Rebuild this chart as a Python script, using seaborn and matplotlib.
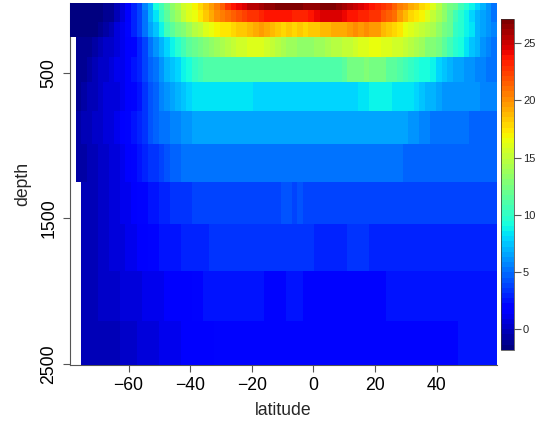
import numpy as np
import pandas as pd
import matplotlib
matplotlib.use("Agg")
import matplotlib.pyplot as plt
import seaborn as sns

nan = np.nan

# Zonal-mean section: latitude cell centres (degrees) and depth levels (m)
latitude = [
    -78.1, -76.3, -74.5, -72.7, -70.9, -69.1, -67.3, -65.5, -63.7, -61.9,
    -60.1, -58.3, -56.5, -54.7, -52.9, -51.1, -49.3, -47.5, -45.7, -43.9,
    -42.1, -40.3, -38.5, -36.7, -34.9, -33.1, -31.3, -29.5, -27.7, -25.9,
    -24.1, -22.3, -20.5, -18.7, -16.9, -15.1, -13.3, -11.5, -9.7, -7.9,
    -6.1, -4.3, -2.5, -0.7, 1.1, 2.9, 4.7, 6.5, 8.3, 10.1,
    11.9, 13.7, 15.5, 17.3, 19.1, 20.9, 22.7, 24.5, 26.3, 28.1,
    29.9, 31.7, 33.5, 35.3, 37.1, 38.9, 40.7, 42.5, 44.3, 46.1,
    47.9, 49.7, 51.5, 53.3, 55.1, 56.9, 58.7,
]
depth = [45, 90, 210, 300, 480, 645, 885, 1090, 1410, 1665, 2055, 2355]

# Temperature (deg C) along each depth level, south to north
temp_45 = [
    -1.8, -1.7, -1.6, -1.6, -1.5, -1.4, -1.2, -1.0, -0.3, 0.5,
    1.5, 2.8, 4.0, 5.5, 7.0, 9.2, 10.8, 12.0, 13.2, 14.3,
    15.5, 16.2, 17.0, 17.8, 18.8, 19.8, 20.6, 21.5, 22.7, 23.5,
    24.2, 24.8, 25.3, 25.7, 26.1, 26.4, 26.6, 26.8, 26.9, 27.0,
    27.1, 26.9, 26.6, 26.4, 26.5, 26.8, 27.0, 27.0, 26.5, 26.0,
    25.5, 25.0, 24.6, 24.2, 23.8, 23.4, 22.9, 22.2, 21.4, 20.6,
    20.0, 19.3, 18.8, 18.0, 17.2, 16.0, 14.5, 13.3, 12.5, 11.8,
    10.8, 9.6, 8.8, 8.0, 6.8, 6.0, 5.0,
]
temp_90 = [
    -1.7, -1.7, -1.6, -1.6, -1.5, -1.4, -1.2, -0.9, -0.2, 0.6,
    1.6, 2.8, 4.0, 5.4, 6.9, 8.4, 10.0, 11.5, 12.8, 14.0,
    15.0, 15.9, 16.6, 17.5, 18.3, 19.2, 20.0, 20.6, 21.2, 21.6,
    22.0, 22.3, 22.7, 23.0, 23.3, 23.5, 23.6, 23.8, 23.7, 23.6,
    23.4, 23.2, 23.3, 23.6, 24.0, 24.4, 24.6, 24.7, 24.5, 24.0,
    23.6, 23.5, 23.3, 23.2, 23.0, 22.6, 22.0, 21.5, 20.8, 19.8,
    18.8, 18.0, 17.4, 16.8, 16.0, 15.2, 14.3, 13.2, 12.0, 10.8,
    9.6, 9.0, 8.0, 7.2, 6.5, 6.0, 5.4,
]
temp_210 = [
    -1.6, -1.6, -1.5, -1.5, -1.4, -1.2, -0.6, -0.2, 0.6, 1.3,
    2.0, 3.0, 4.0, 5.2, 6.4, 7.6, 9.0, 10.4, 11.3, 12.3,
    13.0, 13.9, 14.6, 15.3, 16.0, 16.4, 16.8, 17.2, 17.6, 17.9,
    18.2, 18.5, 18.8, 19.2, 19.6, 19.4, 18.6, 18.2, 18.0, 18.1,
    17.9, 18.2, 18.0, 18.3, 18.5, 18.8, 18.9, 19.3, 19.0, 19.4,
    19.8, 20.0, 19.7, 20.1, 19.8, 19.5, 18.9, 18.3, 17.8, 17.3,
    16.6, 16.1, 15.5, 15.0, 14.8, 14.3, 13.3, 12.6, 11.8, 10.3,
    9.5, 9.0, 8.2, 7.0, 6.5, 6.0, 5.6,
]
temp_300 = [
    nan, -1.3, -1.2, -1.0, -0.6, -0.2, 0.1, 0.4, 0.7, 1.1,
    1.6, 2.2, 3.0, 4.0, 5.0, 5.9, 7.0, 7.9, 8.9, 9.8,
    10.6, 11.3, 12.0, 12.6, 13.1, 13.4, 13.9, 14.3, 14.6, 15.0,
    15.4, 15.8, 16.1, 16.2, 15.9, 15.6, 15.0, 14.6, 14.3, 14.0,
    13.6, 13.3, 13.5, 13.4, 13.8, 14.0, 14.3, 14.6, 14.5, 15.0,
    15.1, 15.5, 15.9, 16.2, 16.4, 16.3, 16.2, 16.0, 15.8, 15.4,
    15.1, 14.8, 14.3, 13.6, 13.0, 12.7, 12.3, 11.4, 10.6, 9.8,
    9.1, 8.4, 7.6, 6.9, 6.3, 5.8, 5.2,
]
temp_480 = [
    nan, -1.1, -0.9, -0.6, -0.2, 0.2, 0.4, 0.7, 1.0, 1.3,
    1.8, 2.3, 3.0, 3.8, 4.6, 5.3, 6.0, 6.8, 7.4, 8.0,
    8.6, 9.4, 10.0, 10.6, 11.0, 11.0, 11.0, 11.0, 11.0, 11.0,
    11.0, 11.0, 11.0, 11.0, 11.0, 11.0, 11.0, 11.0, 11.0, 11.0,
    11.0, 11.0, 11.0, 11.0, 11.0, 11.0, 11.0, 11.0, 11.0, 11.6,
    12.3, 12.5, 12.6, 12.7, 12.6, 12.5, 12.3, 11.6, 11.4, 11.0,
    10.7, 10.2, 9.7, 9.4, 9.2, 8.6, 7.8, 7.4, 7.0, 6.7,
    6.4, 6.2, 6.0, 5.8, 5.6, 5.3, 5.0,
]
temp_645 = [
    nan, -0.9, -0.7, -0.4, -0.1, 0.2, 0.5, 0.7, 0.9, 1.2,
    1.6, 2.1, 2.7, 3.4, 4.1, 4.8, 5.5, 6.1, 6.6, 7.2,
    7.6, 8.0, 8.4, 8.4, 8.4, 8.4, 8.4, 8.4, 8.4, 8.4,
    8.4, 8.4, 8.4, 7.9, 7.9, 7.9, 7.9, 7.9, 7.9, 7.9,
    7.9, 7.9, 7.9, 7.9, 7.9, 7.9, 7.9, 7.9, 7.9, 7.9,
    7.9, 7.9, 8.5, 8.5, 8.8, 8.8, 8.8, 8.8, 8.5, 8.5,
    8.5, 8.5, 8.0, 7.4, 7.2, 6.9, 6.6, 6.3, 6.2, 6.2,
    6.1, 6.0, 6.0, 5.9, 5.8, 5.7, 5.6,
]
temp_885 = [
    nan, -0.5, -0.3, -0.1, 0.2, 0.4, 0.6, 0.9, 1.2, 1.5,
    1.9, 2.4, 3.0, 3.5, 4.1, 4.6, 5.0, 5.3, 5.6, 5.8,
    6.0, 6.2, 6.5, 6.5, 6.5, 6.5, 6.5, 6.5, 6.5, 6.5,
    6.5, 6.5, 6.5, 6.5, 6.5, 6.5, 6.5, 6.5, 6.5, 6.5,
    6.5, 6.5, 6.5, 6.5, 6.5, 6.5, 6.5, 6.5, 6.5, 6.5,
    6.6, 6.6, 6.6, 6.6, 6.5, 6.5, 6.5, 6.5, 6.5, 6.5,
    6.5, 6.2, 6.0, 5.8, 5.6, 5.4, 5.3, 5.2, 5.1, 5.1,
    5.0, 5.0, 4.9, 4.9, 4.8, 4.8, 4.8,
]
temp_1090 = [
    nan, -0.7, -0.6, -0.4, -0.1, 0.1, 0.4, 0.6, 0.9, 1.2,
    1.6, 1.9, 2.4, 2.8, 3.2, 3.6, 4.0, 4.3, 4.6, 4.8,
    5.0, 5.1, 5.2, 5.2, 5.2, 5.2, 5.2, 5.2, 5.2, 5.2,
    5.2, 5.2, 5.2, 5.2, 5.2, 5.2, 5.2, 5.2, 5.2, 5.2,
    5.2, 5.2, 5.2, 5.2, 5.2, 5.2, 5.2, 5.2, 5.2, 5.2,
    5.2, 5.2, 5.2, 5.2, 5.2, 5.2, 5.2, 5.1, 5.0, 5.0,
    4.9, 4.9, 4.8, 4.8, 4.7, 4.7, 4.6, 4.6, 4.6, 4.6,
    4.6, 4.6, 4.6, 4.6, 4.6, 4.6, 4.6,
]
temp_1410 = [
    nan, nan, -0.4, -0.2, 0.0, 0.2, 0.4, 0.6, 0.8, 1.0,
    1.3, 1.6, 1.9, 2.2, 2.5, 2.7, 2.9, 3.1, 3.3, 3.4,
    3.5, 3.5, 3.8, 3.8, 3.8, 3.8, 3.8, 3.8, 3.8, 3.8,
    3.8, 3.8, 3.8, 3.8, 3.8, 3.8, 3.8, 3.8, 4.1, 4.1,
    3.8, 4.1, 3.8, 3.8, 3.8, 3.8, 3.8, 3.8, 3.8, 3.8,
    3.8, 3.8, 3.8, 3.8, 3.8, 3.8, 3.8, 3.8, 3.8, 3.8,
    3.8, 3.8, 3.8, 3.8, 3.8, 3.8, 3.8, 3.8, 3.8, 3.8,
    3.8, 3.8, 3.8, 3.8, 3.8, 3.8, 3.8,
]
temp_1665 = [
    nan, nan, -0.4, -0.3, -0.1, 0.1, 0.3, 0.5, 0.6, 0.8,
    1.0, 1.3, 1.5, 1.7, 1.9, 2.1, 2.3, 2.4, 2.6, 2.7,
    2.8, 2.9, 2.9, 3.0, 3.0, 3.3, 3.3, 3.3, 3.3, 3.3,
    3.3, 3.3, 3.3, 3.3, 3.3, 3.3, 3.3, 3.3, 3.3, 3.3,
    3.3, 3.3, 3.3, 3.3, 2.8, 2.8, 2.8, 2.8, 2.8, 2.8,
    3.3, 3.3, 3.3, 3.3, 3.0, 3.0, 3.0, 3.0, 3.0, 3.0,
    3.0, 3.0, 3.0, 3.0, 3.0, 3.0, 3.0, 3.0, 3.0, 3.0,
    3.0, 3.0, 3.0, 3.0, 3.0, 3.0, 3.0,
]
temp_2055 = [
    nan, nan, -0.2, -0.1, 0.0, 0.1, 0.2, 0.3, 0.4, 0.5,
    0.6, 0.8, 0.9, 1.0, 1.1, 1.2, 1.3, 1.4, 1.5, 1.5,
    1.6, 1.8, 1.9, 2.1, 2.3, 2.4, 2.5, 2.5, 2.5, 2.5,
    2.5, 2.5, 2.5, 2.4, 2.3, 1.9, 2.2, 2.2, 2.2, 2.6,
    2.6, 2.6, 2.0, 2.0, 2.0, 2.0, 2.0, 2.0, 2.0, 2.0,
    2.0, 2.0, 2.0, 2.0, 2.1, 2.2, 2.2, 2.3, 2.3, 2.3,
    2.4, 2.4, 2.5, 2.5, 2.5, 2.5, 2.5, 2.5, 2.5, 2.5,
    2.5, 2.5, 2.5, 2.5, 2.5, 2.5, 2.5,
]
temp_2355 = [
    nan, nan, -0.4, -0.4, -0.3, -0.3, -0.2, -0.1, 0.0, 0.1,
    0.2, 0.3, 0.5, 0.7, 0.8, 0.9, 1.0, 1.1, 1.2, 1.3,
    1.4, 1.5, 1.6, 1.6, 1.7, 1.8, 1.9, 1.9, 1.9, 1.9,
    1.9, 1.9, 1.9, 1.9, 1.9, 1.9, 1.9, 1.9, 1.9, 1.9,
    2.1, 1.9, 1.9, 1.9, 1.9, 1.9, 1.9, 1.9, 1.9, 1.9,
    2.2, 2.2, 1.9, 1.9, 2.0, 2.0, 2.0, 2.1, 2.1, 2.1,
    2.1, 2.2, 2.2, 2.2, 2.2, 2.2, 2.2, 2.2, 2.2, 2.2,
    2.3, 2.3, 2.3, 2.3, 2.3, 2.3, 2.3,
]

x_ticks = [-60, -40, -20, 0, 20, 40]
y_ticks = [500, 1500, 2500]
bar_ticks = [0, 5, 10, 15, 20, 25]

temperature = pd.DataFrame(
    [temp_45, temp_90, temp_210, temp_300, temp_480, temp_645,
     temp_885, temp_1090, temp_1410, temp_1665, temp_2055, temp_2355],
    index=depth, columns=latitude,
)

sns.set_style("ticks")
plt.rcParams["font.family"] = ["Liberation Sans", "DejaVu Sans"]

W, H = 540, 425
fig = plt.figure(figsize=(W / 100, H / 100), dpi=100)
ax = fig.add_axes([70 / W, 1 - 365 / H, 427 / W, 362 / H])
cax = fig.add_axes([501 / W, 1 - 350 / H, 13 / W, 331 / H])

# 64-step rainbow scale, dark blue (cold) to dark red (warm)
cmap = matplotlib.colormaps["jet"].resampled(64)
vals = temperature.to_numpy(dtype=float)
mesh = ax.pcolormesh(
    temperature.columns.to_numpy(dtype=float),
    temperature.index.to_numpy(dtype=float),
    np.ma.masked_invalid(vals),
    shading="nearest", cmap=cmap,
    vmin=np.nanmin(vals), vmax=np.nanmax(vals), zorder=1,
)
ax.invert_yaxis()

axis_grey = "#555555"
ax.set_xticks(x_ticks)
ax.set_yticks(y_ticks, [str(v) for v in y_ticks], rotation=90, va="center")
ax.tick_params(direction="out", length=5, width=0.8, color=axis_grey,
               labelsize=12.7, labelcolor="black")
ax.tick_params(axis="x", pad=3.5)
ax.tick_params(axis="y", pad=4)

sns.despine(ax=ax)
for side in ("left", "bottom"):
    ax.spines[side].set_color(axis_grey)
    ax.spines[side].set_linewidth(0.8)
    ax.spines[side].set_zorder(0.5)

ax.set_xlabel("latitude", fontsize=12.7, labelpad=6)
ax.set_ylabel("depth", fontsize=12.7, labelpad=7)

cb = fig.colorbar(mesh, cax=cax, ticks=bar_ticks)
cb.ax.tick_params(labelsize=8, length=5, width=0.8, color=axis_grey, pad=1.5)
cb.outline.set_linewidth(0.5)
cb.outline.set_edgecolor("#333333")

fig.savefig("out.png", dpi=100)
